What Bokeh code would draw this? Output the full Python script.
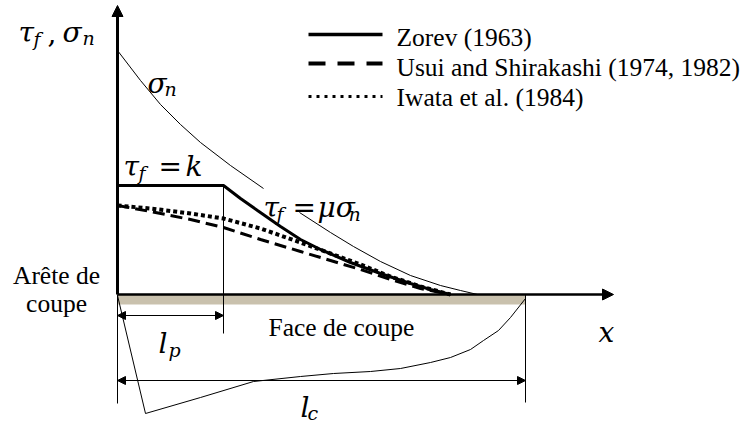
from bokeh.plotting import figure
from bokeh.models import Range1d, Arrow, NormalHead
from bokeh.core.properties import value
from bokeh.embed import file_html
from bokeh.resources import INLINE

# ---- data (schematic units: origin at the cutting edge, y up) ----
sigma_x_a = [0, 23, 43, 63, 83, 113, 146]
sigma_y_a = [244, 214, 190, 170, 152, 129, 106]
sigma_x_b = [182, 213, 236, 263, 293, 323, 343, 360]
sigma_y_b = [82, 62, 48, 33, 19, 9, 4, 0]

zorev_x = [0, 106, 123, 140, 163, 183, 203, 233, 263, 293, 313, 333]
zorev_y = [109, 109, 96, 84, 68, 55, 45, 32, 21, 11, 5, 0]

iwata_x = [0, 33, 73, 106, 143, 183, 213, 243, 273, 303, 333]
iwata_y = [89, 86, 81, 76, 66, 52, 41, 30, 18, 8, 0]

usui_x = [0, 33, 73, 106, 143, 183, 213, 243, 273, 303, 333]
usui_y = [89, 83, 75, 67, 55, 43, 34, 25, 15, 6, 0]

chip_x = [0, 28, 83, 136, 183, 216, 253, 283, 313, 333, 353, 366, 381, 393, 408]
chip_y = [-1, -119, -103, -87, -82, -79, -77, -74, -68, -63, -55, -46, -36, -23, -4]

lp = 106      # plastic contact length
lc = 408      # total contact length
x_axis_end = 496
y_axis_end = 289

legend_labels = ["Zorev (1963)", "Usui and Shirakashi (1974, 1982)", "Iwata et al. (1984)"]

# ---- figure ----
p = figure(width=746, height=423, x_range=Range1d(-117, 629), y_range=Range1d(-129, 294),
           output_backend="svg", toolbar_location=None, min_border=0)
p.axis.visible = False
p.grid.visible = False
p.outline_line_color = None
p.background_fill_color = "white"

MATH = value("DejaVu Serif")
SERIF = value("Liberation Serif")

# rake face strip
p.quad(left=[0], right=[lc], bottom=[-10], top=[0], fill_color="#C9C1AD", line_color=None)

# dimension / construction lines
p.segment(x0=[0, lp, lc], y0=[0, zorev_y[1], 0], x1=[0, lp, lc], y1=[-109, -39, -108],
          line_color="black", line_width=1)

# chip boundary
p.line(chip_x, chip_y, line_color="black", line_width=1)

# normal stress
p.line(sigma_x_a, sigma_y_a, line_color="black", line_width=1)
p.line(sigma_x_b, sigma_y_b, line_color="black", line_width=1)

# shear stress models
p.line(usui_x, usui_y, line_color="black", line_width=3, line_dash="12 6")
p.line(iwata_x, iwata_y, line_color="black", line_width=4, line_dash="4 3")
p.line(zorev_x, zorev_y, line_color="black", line_width=3)

# axes with arrows
p.add_layout(Arrow(x_start=0, y_start=0, x_end=0, y_end=y_axis_end, line_width=3,
                   end=NormalHead(size=11, fill_color="black", line_color="black", line_width=1)))
p.add_layout(Arrow(x_start=0, y_start=0, x_end=x_axis_end, y_end=0, line_width=2.5,
                   end=NormalHead(size=11, fill_color="black", line_color="black", line_width=1)))

# dimension arrows
for xe, yy in [(lp, -21), (lc, -86)]:
    p.add_layout(Arrow(x_start=0, y_start=yy, x_end=xe, y_end=yy, line_width=1,
                       start=NormalHead(size=8, fill_color="black", line_color="black", line_width=1),
                       end=NormalHead(size=8, fill_color="black", line_color="black", line_width=1)))

# legend (drawn)
p.line([191, 265], [260, 260], line_color="black", line_width=3.3)
p.line([191, 265], [231, 231], line_color="black", line_width=4, line_dash="17 12")
p.line([191, 265], [198, 198], line_color="black", line_width=3, line_dash="3 5")
p.text(x=[279, 279, 279], y=[257, 227, 197], text=legend_labels, text_font=SERIF,
       text_font_size="25.5px", text_baseline="alphabetic", text_color="black")

# plain text labels
p.text(x=[-61, -61], y=[19, -9], text=["Arête de", "coupe"], text_font=SERIF,
       text_font_size="25.5px", text_align="center", text_baseline="alphabetic")
p.text(x=[151], y=[-33], text=["Face de coupe"], text_font=SERIF,
       text_font_size="25.5px", text_baseline="alphabetic")

# math labels: main italic glyphs
main_x = [-99, -55, 30, 6, 68, 146, 200, 481, 41, 183]
main_y = [262, 262, 211, 128, 128, 87, 87, -38, -49, -113]
main_t = ["τ", "σ", "σ", "τ", "k", "τ", "μσ", "x", "l", "l"]
p.text(x=main_x, y=main_y, text=main_t, text_font=MATH, text_font_style="italic",
       text_font_size="28px", text_baseline="alphabetic")
# subscripts
sub_x = [-84, -35, 47, 21, 159, 231, 51, 190]
sub_y = [256, 257, 206, 122, 81, 81, -55, -118]
sub_t = ["f", "n", "n", "f", "f", "n", "p", "c"]
p.text(x=sub_x, y=sub_y, text=sub_t, text_font=MATH, text_font_style="italic",
       text_font_size="19px", text_baseline="alphabetic")
# upright symbols
up_x = [-70, 41, 175]
up_y = [262, 128, 87]
up_t = [",", "=", "="]
p.text(x=up_x, y=up_y, text=up_t, text_font=MATH,
       text_font_size="28px", text_baseline="alphabetic")

open("out.html", "w").write(file_html(p, INLINE))
